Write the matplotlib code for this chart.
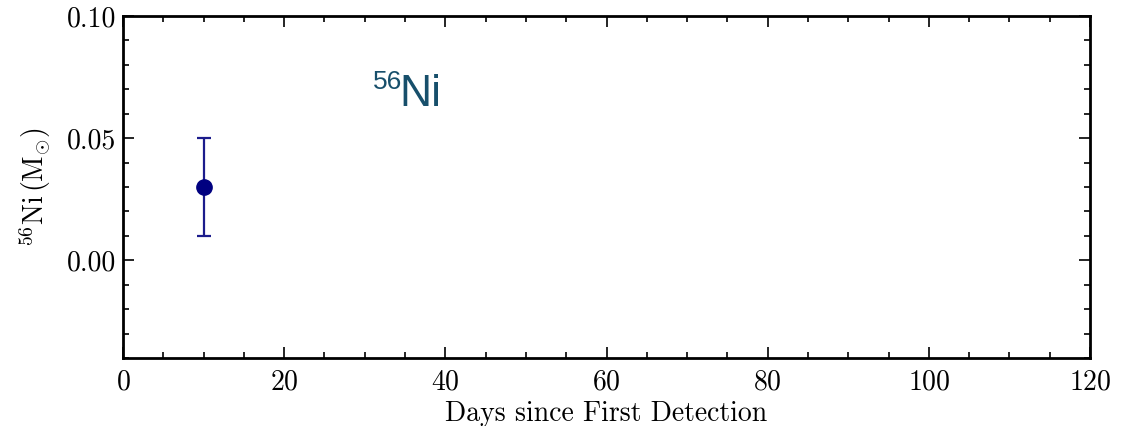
import numpy as np
import matplotlib.pyplot as plt
from matplotlib.ticker import MultipleLocator

# data
days = [10.0]
ni_mass = [0.03]
ni_err = [0.02]

plt.rcParams['font.family'] = 'serif'
plt.rcParams['font.serif'] = ['cmr10']
plt.rcParams['mathtext.fontset'] = 'cm'
plt.rcParams['axes.formatter.use_mathtext'] = True

fig = plt.figure(figsize=(11.27, 4.26), dpi=100)
ax = fig.add_axes([123/1127, 1 - 358/426, (1090-123)/1127, (358-16)/426])

ax.errorbar(days, ni_mass, yerr=ni_err, fmt="o", color="#000080",
            ecolor="#1c1c8c", markersize=11, capsize=5, elinewidth=1.6,
            capthick=1.6)

ax.set_xlim(0, 120)
ax.set_ylim(-0.04, 0.10)
ax.xaxis.set_major_locator(MultipleLocator(20))
ax.xaxis.set_minor_locator(MultipleLocator(5))
ax.yaxis.set_major_locator(MultipleLocator(0.05))
ax.yaxis.set_minor_locator(MultipleLocator(0.01))
ax.yaxis.set_major_formatter(plt.FormatStrFormatter("%.2f"))
ax.tick_params(which="both", direction="in", top=True, right=True, labelsize=20, width=1.2)
ax.tick_params(axis="x", pad=8)
ax.tick_params(axis="y", pad=5)
ax.tick_params(which="major", length=8)
ax.tick_params(which="minor", length=4)
for s in ax.spines.values():
    s.set_linewidth(2)

ax.set_xlabel("Days since First Detection", fontsize=20, labelpad=4)
ax.set_ylabel(r"$^{56}{\rm Ni}\,({\rm M}_{\odot})$", fontsize=20, labelpad=10)

# annotation 56Ni in sans serif
ax.text(31.0, 0.073, "56", fontsize=19, color="#174f6b", family="Liberation Sans",
        va="center", ha="left")
ax.text(34.3, 0.063, "Ni", fontsize=32, color="#174f6b", family="Liberation Sans",
        va="baseline", ha="left")

fig.savefig("out.png", dpi=100)
